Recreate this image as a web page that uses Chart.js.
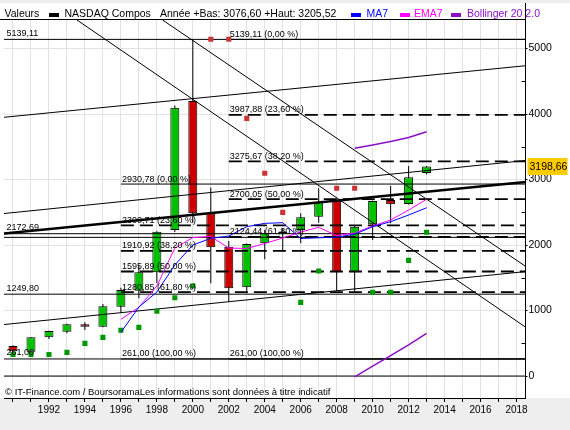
<!DOCTYPE html>
<html><head><meta charset="utf-8">
<script src="https://cdn.jsdelivr.net/npm/chart.js@4.4.1/dist/chart.umd.min.js"></script>
<style>
html,body{margin:0;padding:0;background:#eeeeee;}
#wrap{position:absolute;left:0;top:0;width:570px;height:430px;}
</style></head><body>
<div id="wrap"><canvas id="c" width="570" height="430"></canvas></div>
<script>
// ---- data ----
const years  = [1990,1991,1992,1993,1994,1995,1996,1997,1998,1999,2000,2001,2002,2003,2004,2005,2006,2007,2008,2009,2010,2011,2012,2013];
const openV  = [459, 371, 591, 677, 789, 753,1058,1302,1583,2229,4198,2484,1974,1354,2026,2178,2229,2433,2672,1583,2316,2687,2625,3100];
const highV  = [470, 591, 690, 800, 820,1099,1348,1700,2210,4130,5132,2880,2060,2025,2230,2260,2484,2866,2680,2290,2680,2901,3206,3205.52];
const lowV   = [323, 355, 565, 652, 702, 745, 966,1186,1420,2200,2340,1415,1134,1263,1782,1920,2026,2341,1302,1272,2076,2331,2620,3076.60];
const closeV = [378, 591, 687, 789, 753,1064,1313,1583,2203,4096,2484,1965,1339,2015,2178,2205,2423,2652,1583,2280,2672,2621,3034,3198.66];

const ma7   = [null,null,null,null,null,null, 667,1053,1282,1695,2000,2102,2137,2280,2331,2341,2100,2111,2120,2165,2280,2356,2458,2569];
const ema7  = [null,null,null,null,null,null, 865,1049,1374,1954,2114,2130,1954,1947,2023,2107,2198,2270,2145,2183,2290,2382,2534,2698];
const bollUp  = [null,null,null,null,null,null,null,null,null,null,null,null,null,null,null,null,null,null,null,3476,3527,3580,3641,3730];
const bollLow = [null,null,null,null,null,null,null,null,null,null,null,null,null,null,null,null,null,null,null, -11, 150, 313, 477, 652];

const sarGreen = [330,330,330,361,499,591,698,743,988,1195,1374,null,null,null,null,null,1125,1603,null,null,1278,1278,1766,2194];
const sarRed   = [null,null,null,null,null,null,null,null,null,null,null,5140,5140,3934,3095,2499,null,null,2866,2866,null,null,null,null];

// Fibonacci retracements
const fib1Start = 1996;
const fib1Levels = [2930.78, 2300.71, 1910.92, 1595.89, 1280.85, 261.00];
const fib2Start = 2002;
const fib2Levels = [5139.11, 3987.88, 3275.67, 2700.05, 2124.44, 261.00];
const fibPct = [0, 23.6, 38.2, 50, 61.8, 100];

// full-width horizontal lines and their left labels
const hLevels = [5139.11, 2172.69, 2117, 1249.80, 261.00, 0];
const hLabels = ['5139,11', '2172,69', '', '1249,80', '261,00', ''];

// drawn trend lines [x1, y1, x2, y2] in data units
const trendLines = [
  [1993.56, 5435, 2018.5, 747],
  [1998.32, 5435, 2018.5, 1675],
  [1989.5, 3950, 2018.5, 4737],
  [1989.5, 2481, 2018.5, 3290],
  [1989.5, 786, 2018.5, 1595]
];
const thickTrend = [1989.5, 2176, 2018.5, 2962];

// axis ticks
const xTicks = [1990,1991,1992,1993,1994,1995,1996,1997,1998,1999,2000,2001,2002,2003,2004,2005,2006,2007,2008,2009,2010,2011,2012,2013,2014,2015,2016,2017,2018];
const yTicks = [0,500,1000,1500,2000,2500,3000,3500,4000,4500,5000];

const X_MIN = 1989.5, X_MAX = 2018.5, Y_MIN = -335, Y_MAX = 5435;

// ---- build ----
const FONT = '"Liberation Sans", Arial, sans-serif';
Chart.defaults.font.family = FONT;
Chart.defaults.color = '#000';
const fmt = v => v.toFixed(2).replace('.', ',');
const pts = arr => years.map((x, i) => ({x, y: arr[i]}));

const datasets = [];
datasets.push({type:'line', data:pts(ma7), borderColor:'#0000ff', borderWidth:1, pointRadius:0, order:0});
datasets.push({type:'line', data:pts(ema7), borderColor:'#ff00ff', borderWidth:1, pointRadius:0, order:0});
datasets.push({type:'line', data:pts(bollUp), borderColor:'#8a10c8', borderWidth:1.5, pointRadius:0, order:0});
datasets.push({type:'line', data:pts(bollLow), borderColor:'#8a10c8', borderWidth:1.5, pointRadius:0, order:0});
datasets.push({type:'line', data:pts(sarGreen), showLine:false, pointStyle:'rect', pointRadius:3.6, pointBorderWidth:0, pointBackgroundColor:'#009a00', order:1});
datasets.push({type:'line', data:pts(sarRed), showLine:false, pointStyle:'rect', pointRadius:3.6, pointBorderWidth:0, pointBackgroundColor:'#cc3333', order:1});
trendLines.forEach(t => datasets.push({type:'line', data:[{x:t[0],y:t[1]},{x:t[2],y:t[3]}], borderColor:'#000', borderWidth:1, pointRadius:0, order:2}));
datasets.push({type:'line', data:[{x:thickTrend[0],y:thickTrend[1]},{x:thickTrend[2],y:thickTrend[3]}], borderColor:'#000', borderWidth:2.5, pointRadius:0, order:2});
hLevels.forEach(v => datasets.push({type:'line', data:[{x:X_MIN,y:v},{x:X_MAX,y:v}], borderColor:'#000', borderWidth:1, pointRadius:0, order:2}));
[[fib1Start, fib1Levels],[fib2Start, fib2Levels]].forEach(([s, lv]) => {
  lv.forEach((v, i) => {
    const solid = (i === 0 || i === lv.length - 1);
    datasets.push({type:'line', data:[{x:s,y:v},{x:X_MAX,y:v}], borderColor:'#000',
      borderWidth: solid ? 1 : 1.8, borderDash: solid ? [] : [13,6], pointRadius:0, order:2});
  });
});
datasets.push({type:'bar', data: years.map((x,i)=>({x, y:[openV[i], closeV[i]]})),
  backgroundColor: years.map((x,i)=> closeV[i] >= openV[i] ? '#00c000' : '#cc0000'),
  borderColor:'#000', borderWidth:1, borderSkipped:false, barThickness:9, grouped:false, inflateAmount:0, order:3});
datasets.push({type:'bar', data: years.map((x,i)=>({x, y:[lowV[i], highV[i]]})),
  backgroundColor:'#000', borderWidth:0, barThickness:1, grouped:false, inflateAmount:0, order:4});

const overlay = {
  id: 'overlay',
  beforeDraw(chart) {
    const {ctx, chartArea: a} = chart;
    ctx.save();
    ctx.fillStyle = '#eeeeee';
    ctx.fillRect(0, 0, chart.width, chart.height);
    ctx.fillStyle = '#ffffff';
    ctx.fillRect(0, 3, chart.width, a.bottom - 3);
    ctx.restore();
  },
  afterDatasetsDraw(chart) {
    const {ctx, chartArea: a, scales: {x: xs, y: ys}} = chart;
    ctx.save();
    ctx.fillStyle = '#000';
    ctx.textBaseline = 'alphabetic';
    ctx.textAlign = 'left';
    ctx.font = '9px ' + FONT;
    [[fib1Start, fib1Levels],[fib2Start, fib2Levels]].forEach(([s, lv]) => {
      const x = xs.getPixelForValue(s) + 1;
      lv.forEach((v, i) => {
        ctx.fillText(fmt(v) + ' (' + fmt(fibPct[i]) + ' %)', x, ys.getPixelForValue(v) - 2.5);
      });
    });
    hLevels.forEach((v, i) => {
      if (hLabels[i]) ctx.fillText(hLabels[i], a.left + 2.5, ys.getPixelForValue(v) - 3.5);
    });
    ctx.font = '9.5px ' + FONT;
    ctx.fillText('\u00A9 IT-Finance.com / BoursoramaLes informations sont donn\u00e9es \u00e0 titre indicatif', 5, a.bottom - 3);
    ctx.restore();
  },
  afterDraw(chart) {
    const {ctx, chartArea: a, scales: {y: ys}} = chart;
    ctx.save();
    ctx.strokeStyle = '#000';
    ctx.lineWidth = 1;
    ctx.beginPath();
    ctx.moveTo(0, a.top - 0.5); ctx.lineTo(a.right, a.top - 0.5);
    ctx.moveTo(Math.round(a.right - 0.5) + 0.5, 3); ctx.lineTo(Math.round(a.right - 0.5) + 0.5, a.top);
    ys.ticks.forEach(t => {
      if (t.value % 1000 !== 0) {
        const y = Math.round(ys.getPixelForValue(t.value)) + 0.5;
        ctx.moveTo(a.right - 4, y); ctx.lineTo(a.right, y);
      }
    });
    ctx.stroke();
    ctx.font = '10.5px ' + FONT;
    ctx.textBaseline = 'alphabetic';
    ctx.textAlign = 'left';
    const by = 17;
    ctx.fillStyle = '#000';
    ctx.fillText('Valeurs', 4.5, by);
    ctx.fillRect(49, 13, 10, 4);
    ctx.fillText('NASDAQ Compos', 64.5, by);
    const last = years.length - 1;
    ctx.fillText('Ann\u00e9e +Bas: ' + fmt(lowV[last]) + ' +Haut: ' + fmt(highV[last]), 160, by);
    ctx.fillStyle = '#0000ff';
    ctx.fillRect(351, 13, 10, 4);
    ctx.fillText('MA7', 366.5, by);
    ctx.fillStyle = '#ff00ff';
    ctx.fillRect(400, 13, 10, 4);
    ctx.fillText('EMA7', 414, by);
    ctx.fillStyle = '#8a10c8';
    ctx.fillRect(451, 13, 10, 4);
    ctx.fillText('Bollinger 20 2.0', 467, by);
    const py = ys.getPixelForValue(closeV[last]);
    ctx.fillStyle = '#ffcc00';
    ctx.fillRect(527.5, py - 8.5, 40, 17);
    ctx.fillStyle = '#000';
    ctx.textBaseline = 'middle';
    ctx.fillText(fmt(closeV[last]), 529.5, py + 0.5);
    ctx.restore();
  }
};

new Chart(document.getElementById('c'), {
  type: 'bar',
  data: { datasets },
  options: {
    responsive: false,
    animation: false,
    devicePixelRatio: 1,
    layout: { padding: { top: 20, left: 2.5, right: 0, bottom: 0 } },
    plugins: { legend: { display: false }, tooltip: { enabled: false }, title: { display: false } },
    elements: { line: { tension: 0, fill: false, borderCapStyle: 'butt' } },
    scales: {
      x: {
        type: 'linear', position: 'bottom', min: X_MIN, max: X_MAX, offset: false,
        grid: { color: '#e2e2e2', offset: false, tickLength: 4, tickColor: '#000', drawOnChartArea: true },
        border: { display: true, color: '#000', width: 1 },
        ticks: { autoSkip: false, maxRotation: 0, padding: 2, font: { size: 10 }, color: '#000',
          callback: v => (v % 2 === 0 && v > 1990) ? String(v) : '' },
        afterBuildTicks: s => { s.ticks = xTicks.map(v => ({value: v})); },
        afterFit: s => { s.height = 32; }
      },
      y: {
        type: 'linear', position: 'right', min: Y_MIN, max: Y_MAX,
        grid: { color: c => (c.tick && c.tick.value % 1000 === 0) ? '#e2e2e2' : 'rgba(0,0,0,0)',
                tickLength: 2, tickColor: c => (c.tick && c.tick.value % 1000 === 0) ? '#000' : 'rgba(0,0,0,0)' },
        border: { display: true, color: '#000', width: 1 },
        ticks: { padding: 1, font: { size: 10.5 }, color: '#000',
          callback: v => (v % 1000 === 0) ? String(v) : '' },
        afterBuildTicks: s => { s.ticks = yTicks.map(v => ({value: v})); },
        afterFit: s => { s.width = 44.5; }
      }
    }
  },
  plugins: [overlay]
});
</script>
</body></html>
